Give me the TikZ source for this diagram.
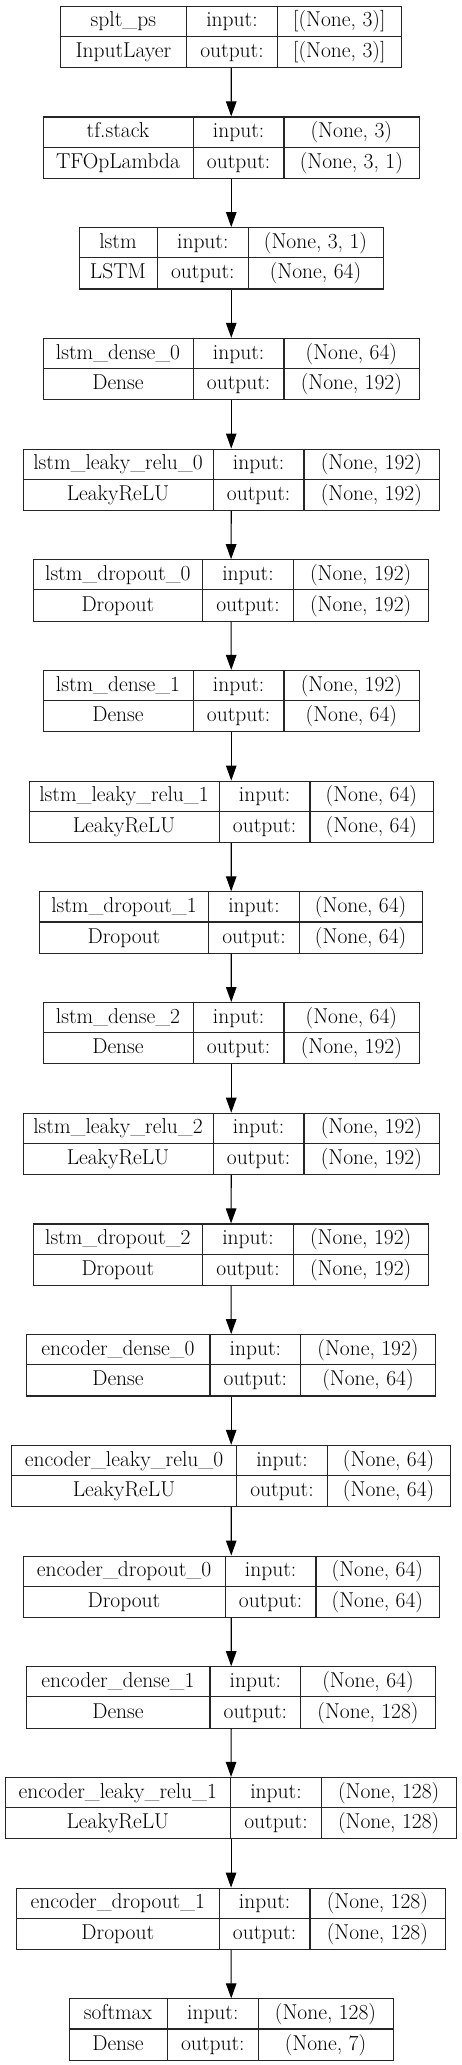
\documentclass[tikz,border=0pt]{standalone}
\usepackage{fontspec}
\usetikzlibrary{arrows.meta}
\tikzset{
  box/.style={draw=black!85, line width=1.1pt, inner sep=0pt, anchor=north west, minimum height=61.3pt},
  sep/.style={draw=black!85, line width=1.1pt},
  txt/.style={anchor=base, inner sep=0pt, font=\fontsize{21.5}{25}\selectfont},
  arr/.style={draw=black, line width=1.1pt, -{Triangle[length=15pt,width=10.5pt]}}
}
\newcommand{\layer}[9]{%
  \pgfmathsetmacro{\T}{5.7+110.7*(#1-1)}%
  \pgfmathsetmacro{\W}{#9-#6}%
  \pgfmathsetmacro{\M}{\T+30.65}%
  \pgfmathsetmacro{\B}{\T+61.3}%
  \pgfmathsetmacro{\Ra}{\T+21.2}%
  \pgfmathsetmacro{\Rb}{\T+51.8}%
  \pgfmathsetmacro{\Ca}{(#6+#7)/2}%
  \pgfmathsetmacro{\Cb}{(#7+#8)/2}%
  \pgfmathsetmacro{\Cc}{(#8+#9)/2}%
  \node[box, minimum width=\W pt] (L#1) at (#6,\T) {};
  \draw[sep] (#6,\M) -- (#9,\M);
  \draw[sep] (#7,\T) -- (#7,\B);
  \draw[sep] (#8,\T) -- (#8,\B);
  \node[txt] (L#1n) at (\Ca,\Ra) {#2};
  \node[txt] (L#1t) at (\Ca,\Rb) {#3};
  \node[txt] (L#1i) at (\Cb,\Ra) {input:};
  \node[txt] (L#1o) at (\Cb,\Rb) {output:};
  \node[txt] (L#1a) at (\Cc,\Ra) {#4};
  \node[txt] (L#1b) at (\Cc,\Rb) {#5};
}
\begin{document}
\begin{tikzpicture}[x=1pt,y=-1pt]
\useasboundingbox (0,0) rectangle (461,2065);
\layer{1}{splt\_ps}{InputLayer}{[(None, 3)]}{[(None, 3)]}{60}{186.7}{277.3}{401.3}
\layer{2}{tf.stack}{TFOpLambda}{(None, 3)}{(None, 3, 1)}{42.7}{193.3}{284}{418.7}
\layer{3}{lstm}{LSTM}{(None, 3, 1)}{(None, 64)}{78.7}{157.3}{248.3}{382.7}
\layer{4}{lstm\_dense\_0}{Dense}{(None, 64)}{(None, 192)}{42.7}{193.3}{284}{418.7}
\layer{5}{lstm\_leaky\_relu\_0}{LeakyReLU}{(None, 192)}{(None, 192)}{22.7}{213.3}{304}{438.7}
\layer{6}{lstm\_dropout\_0}{Dropout}{(None, 192)}{(None, 192)}{33}{202.7}{293.3}{428}
\layer{7}{lstm\_dense\_1}{Dense}{(None, 192)}{(None, 64)}{42.7}{193.3}{284}{418.7}
\layer{8}{lstm\_leaky\_relu\_1}{LeakyReLU}{(None, 64)}{(None, 64)}{28.7}{219.3}{310}{432.7}
\layer{9}{lstm\_dropout\_1}{Dropout}{(None, 64)}{(None, 64)}{39.3}{208.7}{299.3}{422}
\layer{10}{lstm\_dense\_2}{Dense}{(None, 64)}{(None, 192)}{42.7}{193.3}{284}{418.7}
\layer{11}{lstm\_leaky\_relu\_2}{LeakyReLU}{(None, 192)}{(None, 192)}{22.7}{213.3}{304}{438.7}
\layer{12}{lstm\_dropout\_2}{Dropout}{(None, 192)}{(None, 192)}{33}{202.7}{293.3}{428}
\layer{13}{encoder\_dense\_0}{Dense}{(None, 192)}{(None, 64)}{26}{210}{300.7}{435.3}
\layer{14}{encoder\_leaky\_relu\_0}{LeakyReLU}{(None, 64)}{(None, 64)}{11.3}{236.7}{327.3}{450}
\layer{15}{encoder\_dropout\_0}{Dropout}{(None, 64)}{(None, 64)}{22.7}{225.3}{316}{438.7}
\layer{16}{encoder\_dense\_1}{Dense}{(None, 64)}{(None, 128)}{26}{210}{300.7}{435.3}
\layer{17}{encoder\_leaky\_relu\_1}{LeakyReLU}{(None, 128)}{(None, 128)}{5}{230.7}{321.3}{456}
\layer{18}{encoder\_dropout\_1}{Dropout}{(None, 128)}{(None, 128)}{16.3}{219.3}{310}{444.7}
\layer{19}{softmax}{Dense}{(None, 128)}{(None, 7)}{68.7}{167.3}{258.3}{392.7}
\foreach \i [evaluate=\i as \j using int(\i+1)] in {1,...,18}{
  \draw[arr] (L\i.south) -- (L\j.north);
}
\end{tikzpicture}
\end{document}
